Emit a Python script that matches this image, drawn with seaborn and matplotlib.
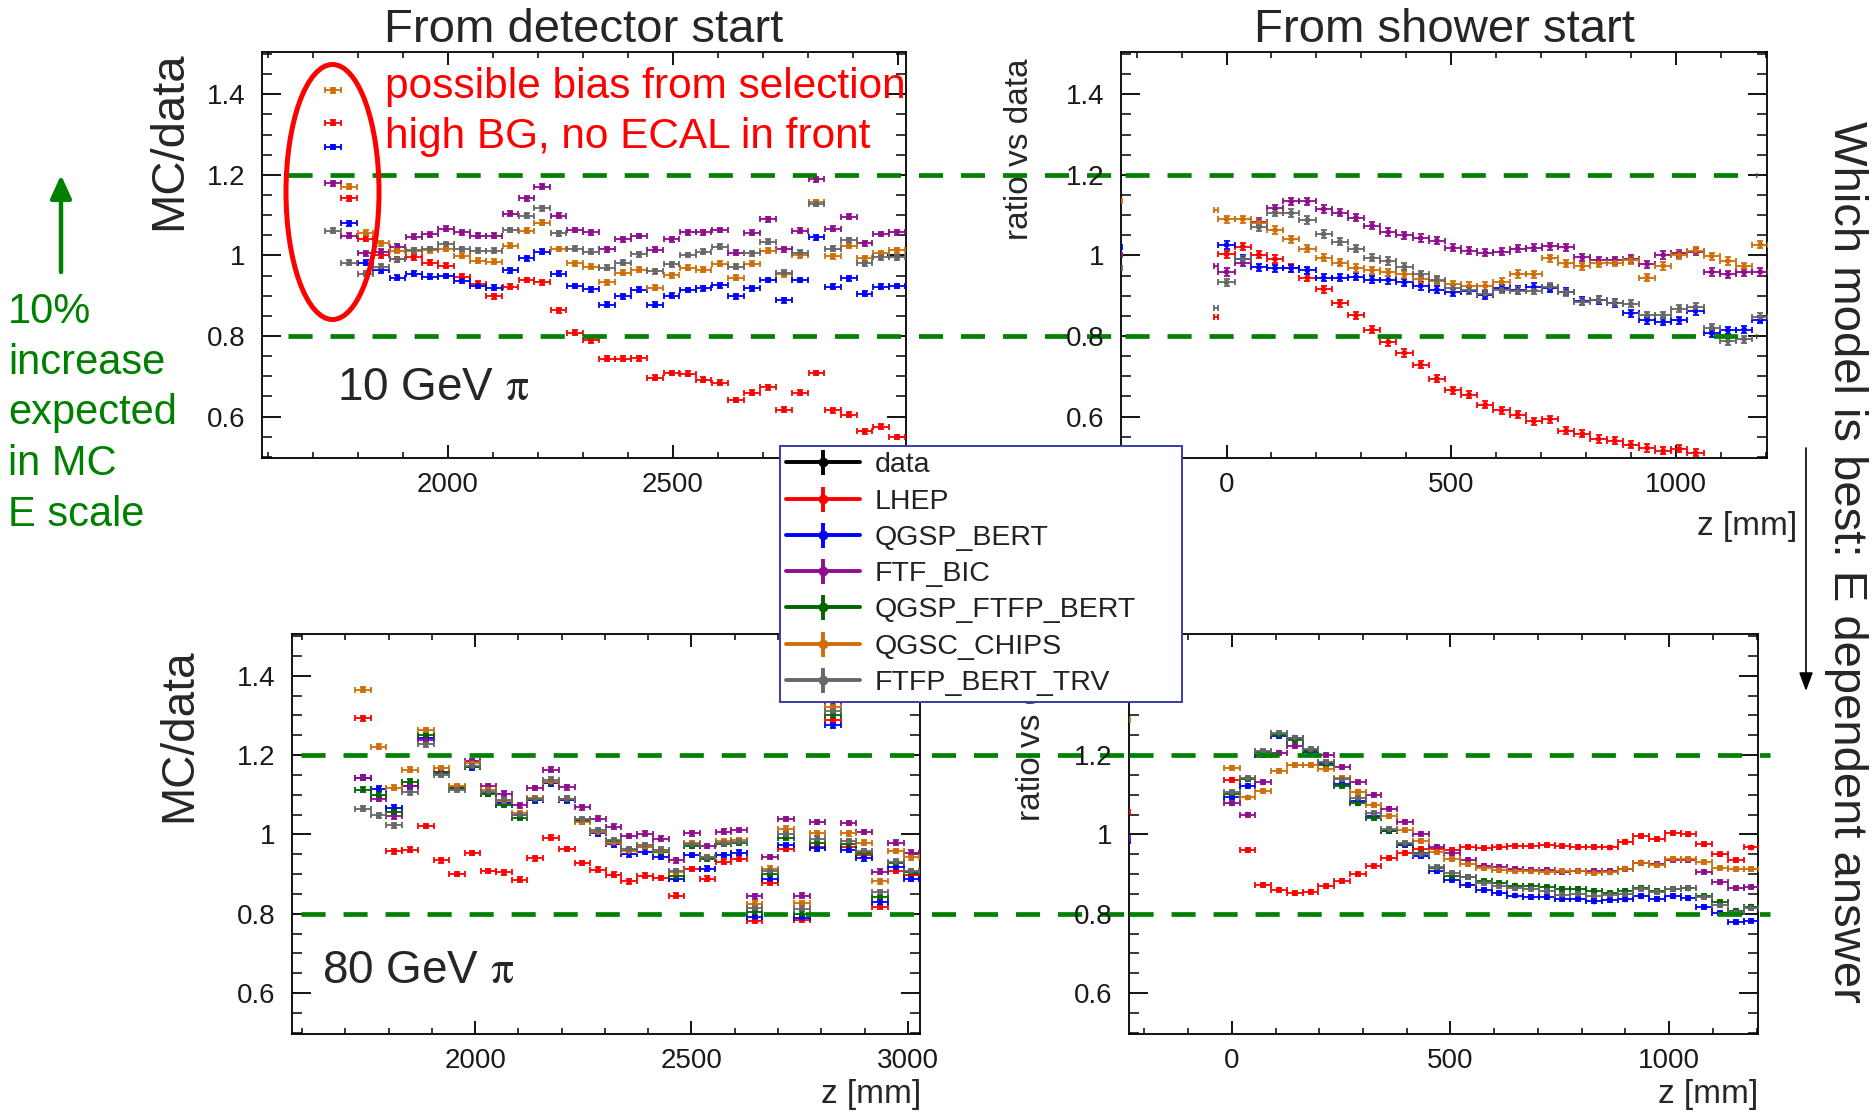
import numpy as np
import pandas as pd
import matplotlib
matplotlib.use("Agg")
import matplotlib.pyplot as plt
import seaborn as sns
from matplotlib.lines import Line2D
from matplotlib.patches import Ellipse, FancyArrowPatch
from matplotlib.legend_handler import HandlerTuple
from matplotlib.ticker import MultipleLocator, FuncFormatter

nan = np.nan

# ---------------- data ----------------
MODELS = ["LHEP", "QGSP_BERT", "FTF_BIC", "QGSP_FTFP_BERT", "QGSC_CHIPS", "FTFP_BERT_TRV"]
LEGEND_LABELS = ["data"] + MODELS
COLORS = {"data": "#000000", "LHEP": "#ff0000", "QGSP_BERT": "#0000ff", "FTF_BIC": "#8e0e8e",
          "QGSP_FTFP_BERT": "#006400", "QGSC_CHIPS": "#cf6e08", "FTFP_BERT_TRV": "#676767"}

# 10 GeV, from detector start
z_tl = [1745, 1781, 1817, 1852, 1888, 1924, 1960, 1996, 2031, 2067, 2103, 2139, 2175, 2210, 2246, 2282,
        2318, 2354, 2389, 2425, 2461, 2497, 2533, 2568, 2604, 2640, 2676, 2712, 2747, 2783, 2819, 2855,
        2891, 2926, 2962, 2998]
tl_lhep = [1.329, 1.142, 1.041, 1.000, 0.990, 0.995, 0.982, 0.974, 0.947, 0.930, 0.899, 0.922, 0.939, 0.933,
           0.864, 0.808, 0.789, 0.744, 0.744, 0.745, 0.696, 0.708, 0.706, 0.691, 0.684, 0.641, 0.659, 0.673,
           0.617, 0.659, 0.708, 0.615, 0.605, 0.563, 0.575, 0.549]
tl_qgsp_bert = [1.269, 1.080, 0.982, 0.963, 0.945, 0.955, 0.947, 0.949, 0.937, 0.924, 0.920, 0.963, 0.993,
                1.009, 0.955, 0.924, 0.916, 0.878, 0.899, 0.915, 0.878, 0.900, 0.914, 0.918, 0.926, 0.899,
                0.918, 0.939, 0.889, 0.939, 1.045, 0.922, 0.943, 0.905, 0.922, 0.924]
tl_ftf_bic = [1.179, 1.049, 1.005, 1.009, 1.022, 1.046, 1.052, 1.066, 1.057, 1.049, 1.049, 1.104, 1.142,
              1.171, 1.099, 1.063, 1.057, 1.015, 1.040, 1.048, 1.014, 1.040, 1.057, 1.057, 1.063, 1.007,
              1.056, 1.090, 1.015, 1.061, 1.189, 1.066, 1.096, 1.030, 1.053, 1.057]
tl_qgsc_chips = [1.410, 1.171, 1.056, 1.030, 1.012, 1.012, 1.013, 1.016, 0.999, 0.987, 0.984, 1.024, 1.061,
                 1.081, 1.016, 0.980, 0.972, 0.933, 0.957, 0.965, 0.920, 0.951, 0.969, 0.965, 0.979, 0.945,
                 0.979, 1.012, 0.953, 1.000, 1.132, 0.998, 1.024, 0.993, 1.005, 1.013]
tl_ftfp_bert_trv = [1.061, 0.982, 0.955, 0.972, 0.990, 1.013, 1.016, 1.028, 1.016, 1.012, 1.012, 1.063, 1.099,
                    1.117, 1.055, 1.017, 1.009, 0.969, 0.982, 1.003, 0.961, 0.978, 1.001, 1.009, 1.022, 0.972,
                    1.005, 1.034, 0.957, 1.007, 1.128, 1.017, 1.038, 0.980, 0.995, 0.995]

# 10 GeV, from shower start
z_tr = [-250, 0, 36, 72, 108, 144, 180, 216, 252, 288, 324, 360, 396, 432, 468, 504, 540, 576, 612, 648, 684,
        720, 756, 792, 828, 864, 900, 936, 972, 1008, 1044, 1080, 1116, 1152, 1188]
tr_lhep = [nan, 1.003, 1.022, 1.002, 0.991, 0.969, 0.945, 0.916, 0.881, 0.851, 0.816, 0.785, 0.758, 0.729, 0.694,
           0.665, 0.654, 0.629, 0.615, 0.605, 0.588, 0.593, 0.565, 0.557, 0.544, 0.540, 0.530, 0.522, 0.515,
           0.520, 0.510, nan, nan, nan, nan]
tr_qgsp_bert = [1.020, 1.026, 0.991, 0.970, 0.968, 0.968, 0.963, 0.945, 0.945, 0.947, 0.940, 0.939, 0.933, 0.924,
                0.915, 0.908, 0.912, 0.901, 0.918, 0.914, 0.922, 0.918, 0.910, 0.887, 0.889, 0.882, 0.856,
                0.839, 0.835, 0.839, 0.862, 0.807, 0.814, 0.816, 0.840]
tr_ftf_bic = [1.001, 0.959, 0.982, 1.084, 1.117, 1.134, 1.134, 1.115, 1.106, 1.094, 1.074, 1.058, 1.050, 1.043,
              1.037, 1.019, 1.012, 1.007, 1.009, 1.017, 1.019, 1.023, 1.020, 0.995, 0.988, 0.988, 0.991, 0.978,
              1.001, 1.005, 1.009, 0.959, 0.953, 0.958, 0.959]
tr_qgsc_chips = [1.134, 1.090, 1.090, 1.081, 1.063, 1.040, 1.017, 0.994, 0.982, 0.969, 0.963, 0.958, 0.953, 0.941,
                 0.937, 0.928, 0.924, 0.924, 0.934, 0.954, 0.953, 0.993, 0.980, 0.973, 0.980, 0.982, 0.988,
                 0.945, 0.974, 1.001, 1.012, 0.998, 0.986, 0.973, 1.027]
tr_ftfp_bert_trv = [0.968, 0.933, 0.990, 1.070, 1.106, 1.105, 1.088, 1.053, 1.034, 1.017, 0.994, 0.986, 0.972,
                    0.953, 0.940, 0.918, 0.914, 0.905, 0.915, 0.912, 0.912, 0.922, 0.908, 0.885, 0.890, 0.883,
                    0.880, 0.851, 0.851, 0.868, 0.872, 0.821, 0.787, 0.792, 0.847]
# partial first bin (just before shower start)
tr_stub_z = -24
tr_stub = {"LHEP": 0.846, "FTF_BIC": 0.973, "QGSC_CHIPS": 1.113, "FTFP_BERT_TRV": 0.870}

# 80 GeV, from detector start
z_bl = [1741, 1777, 1813, 1850, 1886, 1922, 1958, 1994, 2031, 2067, 2103, 2139, 2175, 2212, 2248, 2284, 2320,
        2356, 2393, 2429, 2465, 2501, 2537, 2574, 2610, 2646, 2682, 2718, 2755, 2791, 2827, 2863, 2899, 2936,
        2972, 3008]
bl_lhep = [1.293, nan, 0.957, 0.961, 1.021, 0.935, 0.900, 0.953, 0.908, 0.904, 0.886, 0.940, 0.992, 0.963, 0.928,
           0.911, 0.898, 0.882, 0.896, 0.890, 0.846, 0.913, 0.888, 0.931, 0.939, 0.783, 0.878, 0.963, 0.785,
           0.969, 1.288, 0.969, 0.948, 0.817, 0.908, 0.898]
bl_qgsp_bert = [1.143, 1.115, 1.067, 1.121, 1.242, 1.157, 1.118, 1.169, 1.104, 1.079, 1.048, 1.086, 1.129, 1.086,
                1.033, 1.003, 0.975, 0.950, 0.956, 0.943, 0.888, 0.948, 0.914, 0.948, 0.954, 0.792, 0.888,
                0.973, 0.790, 0.965, 1.275, 0.961, 0.940, 0.829, 0.917, 0.888]
bl_ftf_bic = [1.143, 1.090, 1.046, 1.123, 1.238, 1.158, 1.119, 1.185, 1.121, 1.103, 1.073, 1.117, 1.163, 1.119,
              1.068, 1.040, 1.019, 0.996, 1.002, 0.989, 0.935, 1.003, 0.971, 1.007, 1.011, 0.844, 0.943, 1.039,
              0.846, 1.031, 1.333, 1.029, 1.006, 0.906, 0.979, 0.954]
bl_qgsp_ftfp_bert = [1.113, 1.100, 1.057, 1.133, 1.250, 1.154, 1.117, 1.171, 1.102, 1.075, 1.042, 1.088, 1.131,
                     1.088, 1.036, 1.006, 0.983, 0.960, 0.969, 0.956, 0.894, 0.971, 0.939, 0.977, 0.979, 0.804,
                     0.900, 0.992, 0.800, 0.978, 1.300, 0.975, 0.954, 0.842, 0.928, 0.904]
bl_qgsc_chips = [1.365, 1.221, 1.118, 1.163, 1.263, 1.167, 1.121, 1.179, 1.113, 1.083, 1.054, 1.092, 1.133,
                 1.090, 1.032, 1.006, 0.979, 0.958, 0.969, 0.958, 0.904, 0.978, 0.943, 0.983, 0.985, 0.825,
                 0.914, 1.014, 0.827, 1.003, 1.321, 1.003, 0.979, 0.882, 0.958, 0.942]
bl_ftfp_bert_trv = [1.065, 1.048, 1.023, 1.106, 1.227, 1.150, 1.113, 1.173, 1.108, 1.086, 1.050, 1.090, 1.138,
                    1.090, 1.038, 1.011, 0.986, 0.963, 0.973, 0.961, 0.908, 0.975, 0.942, 0.978, 0.982, 0.814,
                    0.908, 1.000, 0.813, 0.989, 1.311, 0.983, 0.958, 0.854, 0.931, 0.908]

# 80 GeV, from shower start
z_br = [-250, 0, 36, 72, 108, 144, 180, 216, 252, 288, 324, 360, 396, 432, 468, 504, 540, 576, 612, 648, 684,
        720, 756, 792, 828, 864, 900, 936, 972, 1008, 1044, 1080, 1116, 1152, 1188]
br_lhep = [1.057, 1.138, 0.960, 0.873, 0.861, 0.852, 0.856, 0.869, 0.883, 0.900, 0.921, 0.940, 0.954, 0.963,
           0.964, 0.960, 0.968, 0.965, 0.968, 0.971, 0.971, 0.973, 0.971, 0.969, 0.969, 0.967, 0.982, 0.996,
           0.988, 1.003, 1.000, 0.975, 0.950, 0.935, 0.967]
br_qgsp_bert = [0.983, 1.094, 1.123, 1.200, 1.248, 1.242, 1.208, 1.179, 1.127, 1.083, 1.046, 1.008, 0.973, 0.946,
                0.908, 0.886, 0.873, 0.860, 0.853, 0.846, 0.842, 0.842, 0.838, 0.838, 0.831, 0.835, 0.836,
                0.844, 0.838, 0.844, 0.839, 0.817, 0.802, 0.779, 0.782]
br_ftf_bic = [0.992, 1.078, 1.050, 1.131, 1.206, 1.223, 1.212, 1.200, 1.169, 1.131, 1.100, 1.065, 1.032, 1.002,
              0.969, 0.952, 0.936, 0.921, 0.918, 0.913, 0.911, 0.910, 0.906, 0.908, 0.908, 0.908, 0.913, 0.929,
              0.925, 0.936, 0.936, 0.906, 0.879, 0.865, 0.867]
br_qgsp_ftfp_bert = [nan, 1.103, 1.139, 1.208, 1.250, 1.238, 1.210, 1.175, 1.123, 1.078, 1.042, 1.008, 0.975,
                     0.952, 0.915, 0.894, 0.892, 0.882, 0.877, 0.871, 0.869, 0.867, 0.863, 0.863, 0.857, 0.853,
                     0.858, 0.865, 0.858, 0.863, 0.864, 0.844, 0.829, 0.808, 0.818]
br_qgsc_chips = [1.288, 1.168, 1.093, 1.110, 1.160, 1.175, 1.175, 1.165, 1.142, 1.108, 1.075, 1.046, 1.011, 0.983,
                 0.956, 0.938, 0.925, 0.915, 0.911, 0.907, 0.907, 0.906, 0.907, 0.907, 0.903, 0.904, 0.914,
                 0.929, 0.923, 0.938, 0.938, 0.931, 0.915, 0.913, 0.913]
br_ftfp_bert_trv = [nan, 1.106, 1.142, 1.210, 1.256, 1.244, 1.214, 1.182, 1.139, 1.092, 1.053, 1.013, 0.978,
                    0.950, 0.917, 0.903, 0.892, 0.878, 0.871, 0.864, 0.863, 0.858, 0.848, 0.850, 0.846, 0.848,
                    0.850, 0.863, 0.856, 0.863, 0.864, 0.842, 0.821, 0.804, 0.814]

BAND = [0.8, 1.2]


def long_frame(z, series):
    rows = []
    for model, vals in series.items():
        for zi, vi in zip(z, vals):
            if not np.isnan(vi):
                rows.append((zi, vi, model))
    return pd.DataFrame(rows, columns=["z", "ratio", "model"])


df_tl = long_frame(z_tl, {"LHEP": tl_lhep, "QGSP_BERT": tl_qgsp_bert, "FTF_BIC": tl_ftf_bic,
                          "QGSC_CHIPS": tl_qgsc_chips, "FTFP_BERT_TRV": tl_ftfp_bert_trv})
df_tr = long_frame(z_tr, {"LHEP": tr_lhep, "QGSP_BERT": tr_qgsp_bert, "FTF_BIC": tr_ftf_bic,
                          "QGSC_CHIPS": tr_qgsc_chips, "FTFP_BERT_TRV": tr_ftfp_bert_trv})
df_bl = long_frame(z_bl, {"LHEP": bl_lhep, "QGSP_BERT": bl_qgsp_bert, "FTF_BIC": bl_ftf_bic,
                          "QGSP_FTFP_BERT": bl_qgsp_ftfp_bert, "QGSC_CHIPS": bl_qgsc_chips,
                          "FTFP_BERT_TRV": bl_ftfp_bert_trv})
df_br = long_frame(z_br, {"LHEP": br_lhep, "QGSP_BERT": br_qgsp_bert, "FTF_BIC": br_ftf_bic,
                          "QGSP_FTFP_BERT": br_qgsp_ftfp_bert, "QGSC_CHIPS": br_qgsc_chips,
                          "FTFP_BERT_TRV": br_ftfp_bert_trv})

# ---------------- style ----------------
sns.set_theme(style="ticks")
plt.rcParams["font.family"] = ["Liberation Sans", "DejaVu Sans"]
plt.rcParams["mathtext.fontset"] = "stix"
plt.rcParams["axes.linewidth"] = 1.3

W, H = 1875, 1117
fig = plt.figure(figsize=(W / 100, H / 100), dpi=100, facecolor="white")


def fx(px):
    return px / W


def fy(py):
    return 1 - py / H


def make_axes(x0, y0, x1, y1):
    return fig.add_axes([fx(x0), fy(y1), fx(x1) - fx(x0), (y1 - y0) / H])


ax_tl = make_axes(262, 52, 906, 458)
ax_tr = make_axes(1121, 52, 1767, 458)
ax_bl = make_axes(292, 634, 920, 1034)
ax_br = make_axes(1129, 634, 1758, 1034)

GREEN = "#008000"


def draw_panel(ax, df, xlim, yerr, half_bin, major_x):
    ax.set_facecolor("none")
    for model in MODELS:
        sub = df[df.model == model]
        if sub.empty:
            continue
        c = COLORS[model]
        ax.errorbar(sub.z, sub.ratio, xerr=half_bin, yerr=yerr, fmt="none", ecolor=c,
                    elinewidth=1.3, capsize=2.4, capthick=1.3, zorder=3, clip_on=True)
        sns.scatterplot(x=sub.z.values, y=sub.ratio.values, color=c, s=17, edgecolor="none",
                        ax=ax, zorder=4, legend=False)
    ax.set_xlim(*xlim)
    ax.set_ylim(0.497, 1.505)
    ax.set_xlabel("")
    ax.set_ylabel("")
    ax.yaxis.set_major_locator(MultipleLocator(0.2))
    ax.yaxis.set_minor_locator(MultipleLocator(0.05))
    ax.xaxis.set_major_locator(MultipleLocator(major_x))
    ax.xaxis.set_minor_locator(MultipleLocator(100))
    ax.yaxis.set_major_formatter(FuncFormatter(lambda v, p: f"{v:g}"))
    ax.xaxis.set_major_formatter(FuncFormatter(lambda v, p: f"{v:.0f}"))
    ax.tick_params(which="both", direction="in", top=True, right=True, labelsize=20,
                   labelcolor="#1a1a1a", color="black")
    ax.tick_params(axis="y", which="major", length=14, width=1.3, pad=12)
    ax.tick_params(axis="y", which="minor", length=7, width=1.1)
    ax.tick_params(axis="x", which="major", length=9.5, width=1.3, pad=10)
    ax.tick_params(axis="x", which="minor", length=4.5, width=1.1)
    for s in ax.spines.values():
        s.set_color("black")
        s.set_linewidth(1.3)


draw_panel(ax_tl, df_tl, (1587, 3018), 0.006, 17.5, 500)
draw_panel(ax_tr, df_tr, (-235, 1203), 0.009, 18, 500)
draw_panel(ax_bl, df_bl, (1577, 3028), 0.006, 18, 500)
draw_panel(ax_br, df_br, (-235, 1203), 0.005, 18, 500)

# partial bin just before shower start (10 GeV)
for model, v in tr_stub.items():
    ax_tr.errorbar([tr_stub_z], [v], xerr=4.5, fmt="none", ecolor=COLORS[model],
                   elinewidth=1.3, capsize=2.4, capthick=1.3, zorder=3)

# green dashed reference lines (through both panels of a row)
dash_kw = dict(color=GREEN, lw=3.4, dashes=(5.1, 3.8), clip_on=False, zorder=6)
for y in BAND:
    ax_tl.axhline(y, xmin=0.04, xmax=(1121 - 262) / 644, **dash_kw)
    ax_tr.axhline(y, xmin=0.006, xmax=(1757 - 1121) / 646, **dash_kw)
    ax_bl.axhline(y, xmin=0.014, xmax=(1129 - 292) / 628, **dash_kw)
    ax_br.axhline(y, xmin=0.0, xmax=(1770 - 1129) / 629, **dash_kw)

# titles
ax_tl.set_title("From detector start", fontsize=34, pad=3)
ax_tr.set_title("From shower start", fontsize=34, pad=3)

# axis titles
fig.text(fx(169), fy(141), "MC/data", rotation=90, ha="center", va="center", fontsize=34)
fig.text(fx(179), fy(735), "MC/data", rotation=90, ha="center", va="center", fontsize=33)
fig.text(fx(1020), fy(149), "ratio vs data", rotation=90, ha="center", va="center", fontsize=24)
fig.text(fx(1031), fy(730), "ratio vs data", rotation=90, ha="center", va="center", fontsize=24)
fig.text(fx(936), fy(526), "z [mm]", ha="right", va="center", fontsize=24)
fig.text(fx(1797), fy(526), "z [mm]", ha="right", va="center", fontsize=24)
fig.text(fx(921), fy(1094), "z [mm]", ha="right", va="center", fontsize=24)
fig.text(fx(1758), fy(1094), "z [mm]", ha="right", va="center", fontsize=24)

# energy labels
ax_tl.text(0.116, 0.143, r"10 GeV $\mathrm{\pi}$", transform=ax_tl.transAxes, fontsize=33, va="baseline")
ax_bl.text(0.047, 0.127, r"80 GeV $\mathrm{\pi}$", transform=ax_bl.transAxes, fontsize=33, va="baseline")

# red annotation
fig.text(fx(385), fy(98), "possible bias from selection", color="#ff0000", fontsize=30.5, va="baseline")
fig.text(fx(385), fy(148), "high BG, no ECAL in front", color="#ff0000", fontsize=30.5, va="baseline")
fig.add_artist(Ellipse((fx(332.5), fy(192)), width=93 / W, height=255 / H, transform=fig.transFigure,
                       fill=False, edgecolor="#ff0000", lw=3.6, zorder=10))

# green side note
for line, base in zip(["10%", "increase", "expected", "in MC", "E scale"], [323, 374, 424, 475, 526]):
    fig.text(fx(8), fy(base), line, color=GREEN, fontsize=30, va="baseline")
fig.add_artist(FancyArrowPatch((fx(61), fy(272)), (fx(61), fy(175)), transform=fig.transFigure,
                               arrowstyle="-|>,head_length=0.7,head_width=0.32", mutation_scale=20,
                               lw=3.2, color=GREEN, shrinkA=0, shrinkB=0))

# right side note
fig.text(fx(1846), fy(562), "Which model is best: E dependent answer", rotation=270,
         ha="center", va="center", fontsize=34)
fig.add_artist(FancyArrowPatch((fx(1806), fy(448)), (fx(1806), fy(691)), transform=fig.transFigure,
                               arrowstyle="-|>,head_length=0.8,head_width=0.3", mutation_scale=14,
                               lw=1.2, color="black", shrinkA=0, shrinkB=0))

# legend
handles = []
for lab in LEGEND_LABELS:
    c = COLORS[lab]
    handles.append((Line2D([], [], color=c, lw=2.8),
                    Line2D([], [], color=c, marker="|", ms=18, mew=2.8, ls="none"),
                    Line2D([], [], color=c, marker="o", ms=6, ls="none")))
leg = fig.legend(handles, LEGEND_LABELS, handler_map={tuple: HandlerTuple(ndivide=1, pad=0)},
                 loc="upper left", bbox_to_anchor=(fx(780), fy(703), 402 / W, 257 / H),
                 bbox_transform=fig.transFigure, mode="expand", borderaxespad=0,
                 fontsize=20.5, labelspacing=0.36, borderpad=0.22, handlelength=2.6,
                 handletextpad=0.5, fancybox=False, framealpha=1, edgecolor="#3c3ca8",
                 labelcolor="#222222")
leg.get_frame().set_linewidth(1.4)
leg.set_zorder(20)

fig.savefig("out.png", dpi=100, facecolor="white")
